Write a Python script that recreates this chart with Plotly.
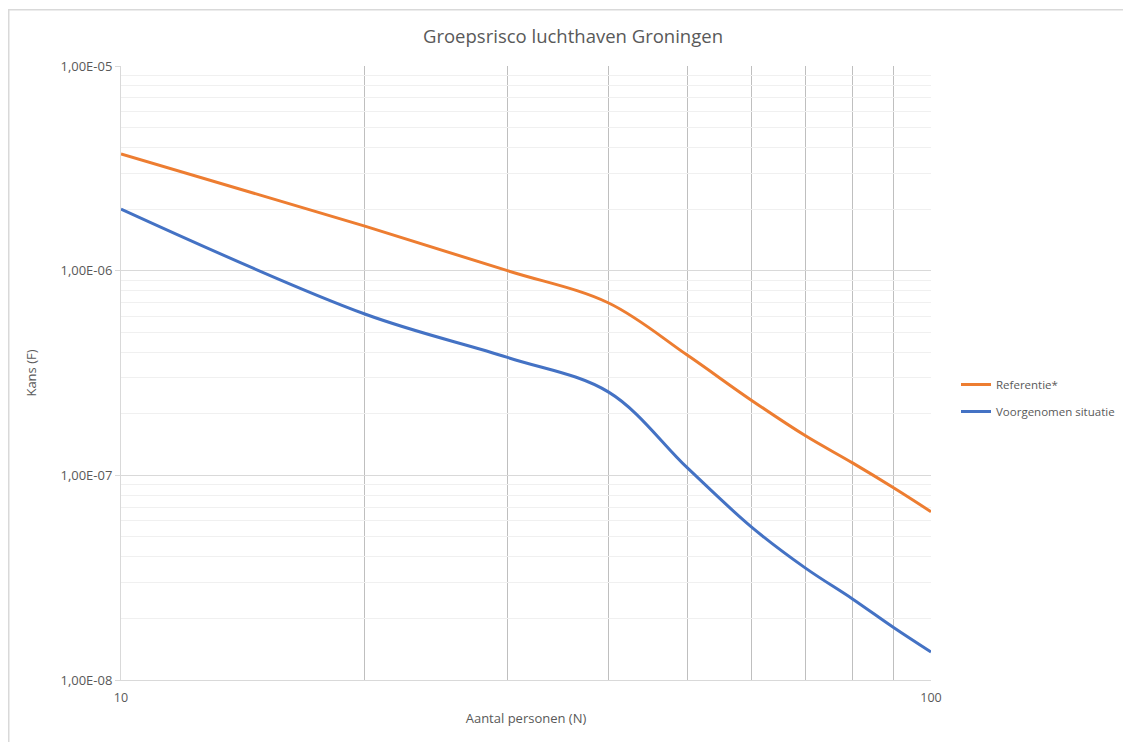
import plotly.graph_objects as go

# Data
personen = [10, 20, 30, 40, 50, 60, 70, 80, 90, 100]
referentie = [3.72e-6, 1.65e-6, 1.0e-6, 6.95e-7, 3.87e-7, 2.33e-7, 1.56e-7, 1.15e-7, 8.67e-8, 6.64e-8]
voorgenomen = [2.0e-6, 6.14e-7, 3.77e-7, 2.55e-7, 1.09e-7, 5.6e-8, 3.52e-8, 2.49e-8, 1.8e-8, 1.37e-8]

y_ticks = [1e-8, 1e-7, 1e-6, 1e-5]
y_ticktext = ["1,00E-08", "1,00E-07", "1,00E-06", "1,00E-05"]
x_ticks = [10, 100]
x_ticktext = ["10", "100"]
x_minor = [20, 30, 40, 50, 60, 70, 80, 90]
y_minor = [m * 10.0 ** e for e in (-8, -7, -6) for m in range(2, 10)]

FONT = "Open Sans"
GREY = "#595959"
OFF = 8  # page body margin

# target plot area on the page
PX0, PX1, PY0, PY1 = 121, 931, 66, 680
W, H = 1131 - OFF, 742 - OFF
L, T = PX0 - OFF, PY0 - OFF
pw, ph = PX1 - PX0, PY1 - PY0
R, B = W - L - pw, H - T - ph


def px(x):
    return (x - PX0) / pw


def py(y):
    return (PY1 - y) / ph


fig = go.Figure()
fig.add_trace(go.Scatter(x=personen, y=referentie, mode="lines", name="Referentie*",
                         legendgroup="a",
                         line=dict(color="#ED7D31", width=3, shape="spline", smoothing=1.0)))
fig.add_trace(go.Scatter(x=personen, y=voorgenomen, mode="lines", name="Voorgenomen situatie",
                         legendgroup="b",
                         line=dict(color="#4472C4", width=3, shape="spline", smoothing=1.0)))

fig.update_layout(
    width=W, height=H,
    margin=dict(l=L, r=R, t=T, b=B, autoexpand=False),
    paper_bgcolor="white", plot_bgcolor="white",
    font=dict(family=FONT, color=GREY, size=12),
    title=dict(text="Groepsrisco luchthaven Groningen", x=(573 - OFF) / W, xanchor="center",
               y=1 - (37 - OFF) / H, yanchor="middle", font=dict(size=18.5, color=GREY, family=FONT)),
    showlegend=True,
    legend=dict(x=px(956), y=py(398), xanchor="left", yanchor="middle",
                font=dict(size=11.5, color=GREY, family=FONT), bgcolor="rgba(0,0,0,0)",
                itemwidth=30, tracegroupgap=8),
    xaxis=dict(type="log", range=[1, 2], tickvals=x_ticks, ticktext=x_ticktext,
               showgrid=True, gridcolor="#d9d9d9", gridwidth=1,
               showline=True, linecolor="#d9d9d9", linewidth=1, mirror=False,
               ticks="", tickfont=dict(size=12.5, color=GREY), zeroline=False,
               ticklabelstandoff=6,
               title=dict(text="Aantal personen (N)", font=dict(size=13, color=GREY), standoff=8),
               minor=dict(tickvals=x_minor, showgrid=True, gridcolor="#bfbfbf", gridwidth=1.3, ticks="")),
    yaxis=dict(type="log", range=[-8, -5], tickvals=y_ticks, ticktext=y_ticktext,
               showgrid=True, gridcolor="#d9d9d9", gridwidth=1,
               showline=True, linecolor="#d9d9d9", linewidth=1,
               ticks="outside", ticklen=5, tickcolor="#d9d9d9",
               tickfont=dict(size=13, color=GREY), zeroline=False,
               title=dict(text="Kans (F)", font=dict(size=13, color=GREY), standoff=20),
               minor=dict(tickvals=y_minor, showgrid=True, gridcolor="#f0f0f0", gridwidth=1, ticks="")),
)

# chart-area border (top and left edges visible)
fig.add_shape(type="rect", xref="paper", yref="paper",
              x0=px(8.75), x1=px(1160),
              y0=py(780), y1=py(9.75),
              line=dict(color="#d9d9d9", width=1.5), fillcolor="rgba(0,0,0,0)", layer="below")

fig.write_html("out.html")
